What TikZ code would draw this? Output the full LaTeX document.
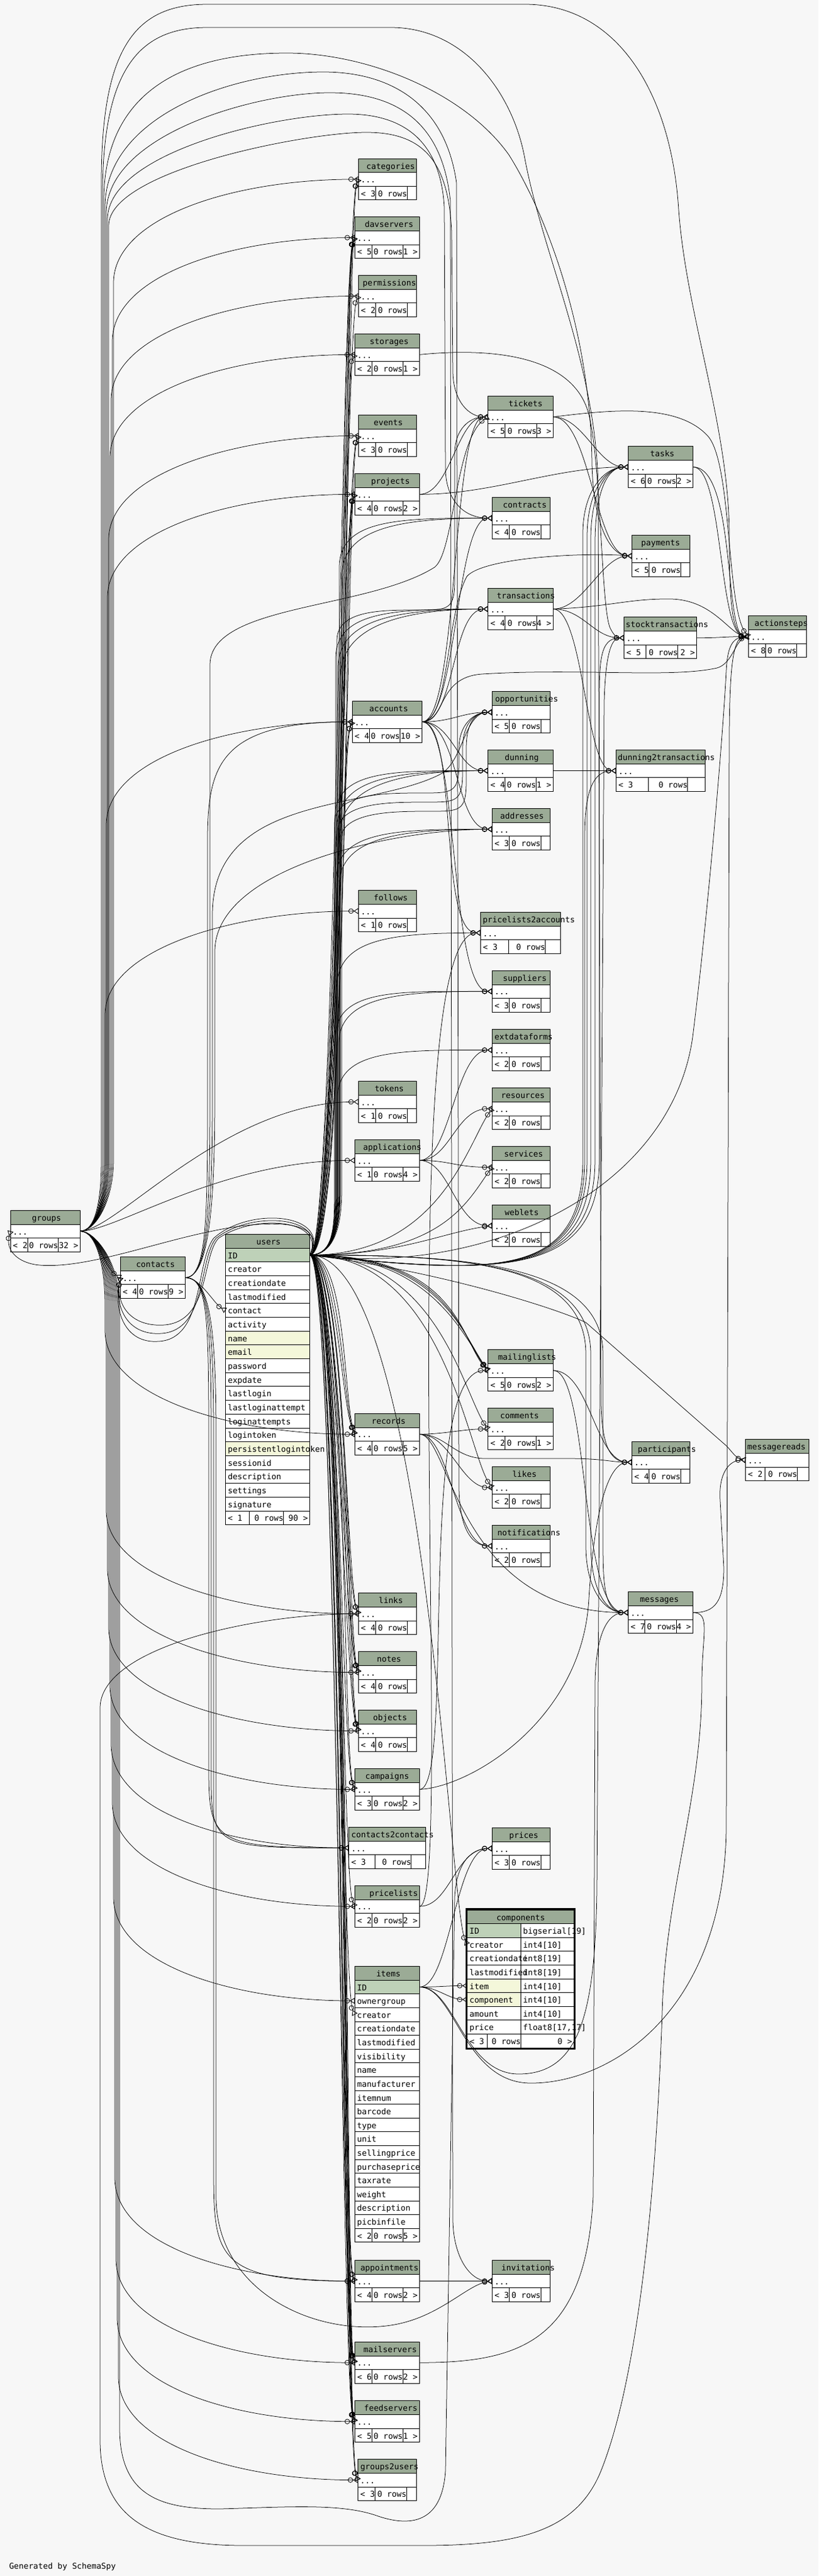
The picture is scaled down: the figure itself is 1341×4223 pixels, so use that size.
\documentclass[tikz,border=0pt]{standalone}
\usepackage{fontspec}
\newfontfamily\tfont{DejaVu Sans Mono}
\usetikzlibrary{arrows.meta}
\definecolor{bgc}{HTML}{F7F7F7}
\definecolor{hdrc}{HTML}{9BAB96}
\definecolor{pkc}{HTML}{BED1B8}
\definecolor{ixc}{HTML}{F4F7DA}
\tikzset{
  tt/.style={font=\fontsize{13.2pt}{15pt}\tfont, anchor=base west, inner sep=0pt, outer sep=0pt},
  tline/.style={line width=0.8pt, black},
  tbox/.style={draw=black, line width=0.8pt, minimum height=67.8pt, inner sep=0pt, outer sep=0pt},
  cellb/.style={draw=black, line width=0.8pt, inner sep=0pt, outer sep=0pt, anchor=north west},
  fk/.style={draw=black, line width=0.75pt, -{Circle[open,length=8.5pt,width=8.5pt,line width=0.8pt]Triangle[open,reversed,length=8pt,width=10pt,line width=0.9pt]}}
}
% small 3-row table
\newcommand\stbl[9]{%
  \fill[hdrc] (#2,#3) rectangle ++(#4,22.6);
  \fill[white] (#2,#3+22.6) rectangle ++(#4,45.2);
  \draw[tline] (#2,#3+22.6) -- ++(#4,0) (#2,#3+45.2) -- ++(#4,0)
    (#2+#7,#3+45.2) -- ++(0,22.6) (#2+#8,#3+45.2) -- ++(0,22.6);
  \node[tbox, minimum width=#4pt, anchor=north west] (#1) at (#2,#3) {};
  \node[tt] (#1-title) at (#2+#6,#3+17) {#5};
  \node[tt] (#1-dots) at (#2+4,#3+39.6) {...};
  \stblf{#1}{#2}{#3}{#4}{#8}#9}
\newcommand\stblf[7]{%
  \node[tt] (#1-fl) at (#2+4,#3+62.2) {<\ #6};
  \node[tt, anchor=base east] (#1-fm) at (#2+#5,#3+62.2) {0 rows};
  \node[tt, anchor=base east] (#1-fr) at (#2+#4-3,#3+62.2) {#7};}
% edges
\newcommand\gup[3]{\draw[fk] (groups.east) .. controls +(25,0) and +(0,70) .. (#2,1900) -- (#2,#3) .. controls +(0,-110) and +(-200,0) .. (#1.west);}
\newcommand\gdn[3]{\draw[fk] (groups.east) .. controls +(25,0) and +(0,-70) .. (#2,2140) -- (#2,#3) .. controls +(0,110) and +(-200,0) .. (#1.west);}
\newcommand\ue[3]{\draw[fk] (users-r1.east) .. controls +(#2,0) and +(#3) .. (#1.west);}
\newcommand\uemd[3]{\draw[fk] (users-r1.east) .. controls +(40,0) and +(0,60) .. (#2,1950) -- (#2,#3) .. controls +(0,-80) and +(-150,0) .. (#1.west);}
\newcommand\uem[5]{\draw[fk] (users-r1.east) .. controls +(40,0) and +(0,60) .. (#2,1950) -- (#2,#3+50) .. controls +(0,-50) and +(-60,0) .. (#4-60,#3) .. controls +(50,0) and +(0,50) .. (#4,#3-50) -- (#4,#5+60) .. controls +(0,-40) and +(-30,0) .. (#1.west);}
\newcommand\uer[3]{\draw[fk] (users-r1.east) .. controls +(300,30) and +(0,200) .. (#2,1900) -- (#2,#3) .. controls +(0,-70) and +(-40,0) .. (#1.west);}
\newcommand\uerb[3]{\draw[fk] (users-r1.east) .. controls +(250,0) and +(0,-150) .. (#2,2220) -- (#2,#3) .. controls +(0,70) and +(-40,0) .. (#1.west);}
\newcommand\ie[4]{\draw[fk] (#1.east) .. controls +(#3,0) and +(-#4,0) .. (#2.west);}
\begin{document}
\begin{tikzpicture}[x=1pt,y=-1pt]
\fill[bgc] (0,0) rectangle (1341,4223);
\useasboundingbox (0,0) rectangle (1341,4223);

% ---------- left column ----------
\stbl{categories}{587.4}{260}{95.4}{categories}{13}{27.6}{79.6}{{3}{}}
\stbl{davservers}{581.3}{355.7}{106.1}{davservers}{16.5}{27.6}{78.6}{{5}{1 >}}
\stbl{permissions}{587.4}{451.6}{95.4}{permissions}{7}{27.6}{79.6}{{2}{}}
\stbl{storages}{581.3}{547.5}{106.1}{storages}{24.6}{27.6}{78.6}{{2}{1 >}}
\stbl{events}{587.4}{680.6}{95.4}{events}{25}{27.6}{79.6}{{3}{}}
\stbl{projects}{581.3}{776.5}{106.1}{projects}{26.7}{27.6}{78.6}{{4}{2 >}}
\stbl{accounts}{577.2}{1149.5}{114.3}{accounts}{28}{28}{78}{{4}{10 >}}
\stbl{follows}{587.4}{1459.7}{95.4}{follows}{25}{27.6}{79.6}{{1}{}}
\stbl{tokens}{587.4}{1772.4}{95.4}{tokens}{26.6}{27.6}{79.6}{{1}{}}
\stbl{applications}{581.3}{1868.4}{106.1}{applications}{13.8}{27.6}{78.6}{{1}{4 >}}
\stbl{records}{581.3}{2317.3}{106.1}{records}{27.6}{27.6}{78.6}{{4}{5 >}}
\stbl{links}{587.4}{2611.7}{95.4}{links}{33.2}{27.6}{79.6}{{4}{}}
\stbl{notes}{587.4}{2707.7}{95.4}{notes}{30.2}{27.6}{79.6}{{4}{}}
\stbl{objects}{587.4}{2803.6}{95.4}{objects}{24}{27.6}{79.6}{{4}{}}
\stbl{campaigns}{581.3}{2899.5}{106.1}{campaigns}{17.4}{27.6}{78.6}{{3}{2 >}}
\stbl{contacts2contacts}{571.6}{2995.4}{126.1}{contacts2contacts}{4.1}{42.9}{102.1}{{3}{}}
\stbl{pricelists}{581.3}{3091.3}{106.1}{pricelists}{24}{27.6}{78.6}{{2}{2 >}}
\stbl{appointments}{581.3}{3705.6}{106.1}{appointments}{9.2}{27.6}{78.6}{{4}{2 >}}
\stbl{mailservers}{581.3}{3839.3}{106.1}{mailservers}{14.3}{27.6}{78.6}{{6}{2 >}}
\stbl{feedservers}{581.3}{3935.8}{106.1}{feedservers}{15.3}{27.6}{78.6}{{5}{1 >}}
\stbl{groups2users}{586.4}{4031.7}{95.9}{groups2users}{4.1}{27.6}{79.6}{{3}{}}
% ---------- middle column ----------
\stbl{tickets}{799.7}{649.6}{106.6}{tickets}{33.7}{27.5}{79.5}{{5}{3 >}}
\stbl{contracts}{806.3}{815.5}{95.4}{contracts}{17.9}{27.6}{79.6}{{4}{}}
\stbl{transactions}{799.7}{964.5}{106.6}{transactions}{14.3}{27.5}{79.5}{{4}{4 >}}
\stbl{opportunities}{806.3}{1133.7}{95.4}{opportunities}{5}{27.6}{79.6}{{5}{}}
\stbl{dunning}{799.7}{1229.6}{106.6}{dunning}{27.5}{27.5}{78.6}{{4}{1 >}}
\stbl{addresses}{806.3}{1325.5}{95.4}{addresses}{13.3}{27.6}{79.6}{{3}{}}
\stbl{pricelists2accounts}{787.4}{1495.4}{131.2}{pricelists2accounts}{3.6}{46}{106.2}{{3}{}}
\stbl{suppliers}{806.3}{1591.3}{95.4}{suppliers}{17.9}{27.6}{79.6}{{3}{}}
\stbl{extdataforms}{806.3}{1687.5}{95.4}{extdataforms}{4}{27.6}{79.6}{{2}{}}
\stbl{resources}{806.3}{1783.7}{95.4}{resources}{14.7}{27.6}{79.6}{{2}{}}
\stbl{services}{806.3}{1879.6}{95.4}{services}{19.9}{27.6}{79.6}{{2}{}}
\stbl{weblets}{806.3}{1975.5}{95.4}{weblets}{20.9}{27.6}{79.6}{{2}{}}
\stbl{mailinglists}{799.7}{2212.8}{106.6}{mailinglists}{16.3}{27.5}{78.6}{{5}{2 >}}
\stbl{comments}{799.7}{2308.7}{106.6}{comments}{19.9}{27.5}{78.6}{{2}{1 >}}
\stbl{likes}{806.3}{2404.6}{95.4}{likes}{33.2}{27.6}{79.6}{{2}{}}
\stbl{notifications}{806.3}{2500.5}{95.4}{notifications}{8.7}{27.6}{79.6}{{2}{}}
\stbl{prices}{806.3}{2996.4}{95.4}{prices}{28.1}{27.6}{79.6}{{3}{}}
\stbl{invitations}{806.3}{3705.6}{95.4}{invitations}{15.3}{27.6}{79.6}{{3}{}}
% ---------- right columns ----------
\stbl{tasks}{1029.6}{731.7}{106.1}{tasks}{35.8}{27.5}{78.6}{{6}{2 >}}
\stbl{payments}{1035.7}{877.5}{95}{payments}{15}{27.6}{79.6}{{5}{}}
\stbl{stocktransactions}{1022.4}{1011.8}{119.4}{stocktransactions}{3}{35.8}{88.3}{{5}{2 >}}
\stbl{dunning2transactions}{1009.4}{1229.6}{145.9}{dunning2transactions}{3}{53}{117.3}{{3}{}}
\stbl{participants}{1035.4}{2363.3}{94.9}{participants}{9.7}{27.6}{79.6}{{4}{}}
\stbl{messages}{1029.3}{2609.7}{106.1}{messages}{19.4}{27.5}{78.6}{{7}{4 >}}
\stbl{actionsteps}{1226.7}{1009.7}{94.9}{actionsteps}{9.7}{27.6}{78.6}{{8}{}}
\stbl{messagereads}{1221.6}{2359.7}{104.1}{messagereads}{3.1}{31.7}{84.7}{{2}{}}
% ---------- far left ----------
\stbl{groups}{17.2}{1984.4}{114.1}{groups}{35.2}{28}{78.1}{{2}{32 >}}
\stbl{contacts}{197}{2060.6}{106.5}{contacts}{26}{28.8}{78.5}{{4}{9 >}}

% ---------- users ----------
\node[cellb, fill=hdrc, minimum width=138.2pt, minimum height=22.67pt] (users) at (369.3,2023.5) {};
\node[tt] (users-title) at (420.2,2040.5) {users};
\foreach \cn/\cf [count=\i] in {ID/pkc,creator/white,creationdate/white,lastmodified/white,contact/white,activity/white,name/ixc,email/ixc,password/white,expdate/white,lastlogin/white,lastloginattempt/white,loginattempts/white,logintoken/white,persistentlogintoken/ixc,sessionid/white,description/white,settings/white,signature/white}{
  \node[cellb, fill=\cf, minimum width=138.2pt, minimum height=22.67pt] (users-r\i) at (369.3,2023.5+\i*22.67) {};
  \node[tt] (users-t\i) at (373.3,2040.5+\i*22.67) {\cn};
}
\node[cellb, fill=white, minimum width=138.2pt, minimum height=22.67pt] (users-ft) at (369.3,2476.9) {};
\draw[tline] (408.7,2476.9) -- ++(0,22.67) (464.6,2476.9) -- ++(0,22.67);
\node[tt] (users-fl) at (373.3,2493.9) {<\ 1};
\node[tt, anchor=base east] (users-fm) at (464.6,2493.9) {0 rows};
\node[tt, anchor=base east] (users-fr) at (504.5,2493.9) {90 >};

% ---------- items ----------
\node[cellb, fill=hdrc, minimum width=106.1pt, minimum height=22.61pt] (items) at (581.3,3223.5) {};
\node[tt] (items-title) at (616.5,3240.5) {items};
\foreach \cn/\cf [count=\i] in {ID/pkc,ownergroup/white,creator/white,creationdate/white,lastmodified/white,visibility/white,name/white,manufacturer/white,itemnum/white,barcode/white,type/white,unit/white,sellingprice/white,purchaseprice/white,taxrate/white,weight/white,description/white,picbinfile/white}{
  \node[cellb, fill=\cf, minimum width=106.1pt, minimum height=22.61pt] (items-r\i) at (581.3,3223.5+\i*22.61) {};
  \node[tt] (items-t\i) at (585.1,3240.5+\i*22.61) {\cn};
}
\node[cellb, fill=white, minimum width=106.1pt, minimum height=22.61pt] (items-ft) at (581.3,3653.1) {};
\draw[tline] (608.9,3653.1) -- ++(0,22.61) (659.9,3653.1) -- ++(0,22.61);
\node[tt] (items-fl) at (585.3,3670.1) {<\ 2};
\node[tt, anchor=base east] (items-fm) at (659.9,3670.1) {0 rows};
\node[tt, anchor=base east] (items-fr) at (684.4,3670.1) {5 >};

% ---------- components ----------
\node[cellb, fill=hdrc, minimum width=175pt, minimum height=22.6pt] (components) at (765.5,3131) {};
\node[tt] (components-title) at (813.5,3148) {components};
\foreach \cn/\ct/\cf [count=\i] in {ID/bigserial[19]/pkc,creator/int4[10]/white,creationdate/int8[19]/white,lastmodified/int8[19]/white,item/int4[10]/ixc,component/int4[10]/ixc,amount/int4[10]/white,price/float8[17.17]/white}{
  \node[cellb, fill=\cf, minimum width=87.8pt, minimum height=22.6pt] (comp-r\i) at (765.5,3131+\i*22.6) {};
  \node[cellb, fill=white, minimum width=87.2pt, minimum height=22.6pt] (comp-s\i) at (853.3,3131+\i*22.6) {};
}
\foreach \cn/\ct [count=\i] in {ID/bigserial[19],creator/int4[10],creationdate/int8[19],lastmodified/int8[19],item/int4[10],component/int4[10],amount/int4[10]}{
  \node[tt] (comp-t\i) at (769.3,3148+\i*22.6) {\cn};
  \node[tt] (comp-u\i) at (857.1,3148+\i*22.6) {\ct};
}
\node[tt] (comp-t8) at (769.3,3328.8) {price};
\node[tt] (comp-u8) at (857.1,3328.8) {float8[17,17]};
\node[cellb, fill=white, minimum width=175pt, minimum height=22.6pt] (comp-ft) at (765.5,3334.4) {};
\draw[tline] (798,3334.4) -- ++(0,22.6) (853.3,3334.4) -- ++(0,22.6);
\node[tt] (comp-fl) at (769.5,3351.4) {<\ 3};
\node[tt, anchor=base east] (comp-fm) at (853.3,3351.4) {0 rows};
\node[tt, anchor=base east] (comp-fr) at (937.5,3351.4) {0 >};
\draw[line width=2.5pt] (763.9,3129.4) rectangle (942.1,3358.6);

\node[tt] (gen) at (15,4211) {Generated by SchemaSpy};

% ================= connectors =================
% --- groups (ownergroup) ---
\gup{categories}{186}{464}
\gup{davservers}{184}{560}
\gup{permissions}{182}{656}
\gup{storages}{180}{751}
\gup{events}{178}{885}
\gup{projects}{176}{980}
\gup{accounts}{174}{1353}
\gup{follows}{172}{1664}
\draw[fk] (groups.east) .. controls +(60,0) and +(-220,0) .. (tokens.west);
\draw[fk] (groups.east) .. controls +(60,0) and +(-220,0) .. (applications.west);
\draw[fk] (groups.east) .. controls +(30,0) and +(-30,-20) .. (contacts.west);
\gdn{records}{172}{2181}
\gdn{links}{174}{2476}
\gdn{notes}{176}{2572}
\gdn{objects}{178}{2668}
\gdn{campaigns}{180}{2763}
\gdn{contacts2contacts}{182}{2859}
\gdn{pricelists}{184}{2955}
\gdn{items-r2}{186}{3110}
\gdn{appointments}{188}{3570}
\gdn{mailservers}{190}{3703}
\gdn{feedservers}{192}{3800}
\gdn{groups2users}{194}{3896}
% top arcs
\draw[fk] (groups.east) .. controls +(25,0) and +(0,70) .. (166,1900) -- (166,300) .. controls (166,80) and (220,7) .. (340,7) -- (860,7) .. controls (1010,7) and (1100,150) .. (1112,344) .. controls (1125,520) and (1195,700) .. (1195,880) .. controls (1195,990) and (1200,1040) .. (actionsteps.west);
\draw[fk] (groups.east) .. controls +(25,0) and +(0,70) .. (168,1900) -- (168,320) .. controls (168,110) and (230,45) .. (340,45) -- (640,45) .. controls (760,45) and (840,150) .. (860,260) .. controls (890,420) and (978,600) .. (980,800) -- (985,2300) .. controls (986,2370) and (1000,2397) .. (participants.west);
\draw[fk] (groups.east) .. controls +(25,0) and +(0,70) .. (170,1900) -- (170,330) .. controls (170,150) and (300,87) .. (470,87) .. controls (600,87) and (760,150) .. (834,254) .. controls (900,360) and (968,550) .. (970,760) .. controls (972,860) and (1000,911) .. (payments.west);
\draw[fk] (groups.east) .. controls +(25,0) and +(0,70) .. (172,1900) -- (172,340) .. controls (172,190) and (380,118) .. (530,118) .. controls (640,118) and (730,170) .. (748,300) -- (752,2440) .. controls (753,2500) and (770,2534) .. (notifications.west);
\draw[fk] (groups.east) .. controls +(25,0) and +(0,70) .. (174,1900) -- (174,350) .. controls (174,220) and (420,152) .. (540,152) .. controls (650,152) and (725,200) .. (738,330) -- (742,3640) .. controls (743,3700) and (770,3739.5) .. (invitations.west);
\draw[fk] (groups.east) .. controls +(25,0) and +(0,70) .. (176,1900) -- (176,360) .. controls (176,250) and (450,187) .. (570,187) .. controls (660,187) and (722,230) .. (728,340) -- (730,770) .. controls (731,820) and (760,849.4) .. (contracts.west);
\draw[fk] (groups.east) .. controls +(25,0) and +(0,70) .. (178,1900) -- (178,370) .. controls (178,280) and (500,217) .. (600,217) .. controls (690,217) and (735,260) .. (740,380) -- (742,610) .. controls (743,660) and (770,683.5) .. (tickets.west);
% bottom arc
\draw[fk] (groups.east) .. controls +(25,0) and +(0,-70) .. (196,2140) -- (196,3980) .. controls (196,4090) and (260,4113) .. (360,4113) .. controls (470,4110) and (560,4103) .. (620,4125) .. controls (680,4145) and (725,4130) .. (730,4050) -- (745,3110) .. controls (748,3050) and (775,3030.3) .. (prices.west);

% --- users (creator etc.) ---
\draw[fk] (users-r1.east) .. controls (540,1995) and (430,2000) .. (344,2019) .. controls (250,2038) and (140,2080) .. (65,2074) .. controls (30,2071) and (8,2050) .. (groups.west);
\draw[fk] (users-r1.east) .. controls (535,2000) and (420,1988) .. (358,2030) .. controls (330,2060) and (345,2165) .. (270,2172) .. controls (215,2176) and (190,2140) .. (contacts.west);
\draw[fk] (users-r1.east) .. controls (540,1995) and (415,1982) .. (354,2030) .. controls (325,2065) and (340,2180) .. (265,2186) .. controls (210,2190) and (188,2145) .. (contacts.west);
\draw[fk] (users-r1.east) .. controls (545,1990) and (410,1976) .. (350,2030) .. controls (320,2070) and (335,2195) .. (260,2199) .. controls (205,2203) and (186,2150) .. (contacts.west);
% left column, above
\ue{categories}{45}{-22,45} \ue{categories}{60}{-20,50}
\ue{davservers}{42}{-22,45} \ue{davservers}{50}{-22,48} \ue{davservers}{58}{-20,52} \ue{davservers}{66}{-18,55}
\ue{permissions}{48}{-22,45}
\ue{storages}{52}{-22,45}
\ue{events}{44}{-22,45} \ue{events}{62}{-20,50}
\ue{projects}{46}{-22,45} \ue{projects}{54}{-20,50} \ue{projects}{64}{-18,55}
\ue{accounts}{48}{-22,45} \ue{accounts}{56}{-20,50}
% left column, below
\ue{records}{45}{-22,-45} \ue{records}{52}{-20,-50} \ue{records}{60}{-18,-55}
\ue{links}{46}{-22,-45} \ue{links}{58}{-20,-50}
\ue{notes}{44}{-22,-45} \ue{notes}{54}{-20,-50} \ue{notes}{64}{-18,-55}
\ue{objects}{47}{-22,-45} \ue{objects}{57}{-20,-50} \ue{objects}{67}{-18,-55}
\ue{campaigns}{50}{-22,-45} \ue{campaigns}{62}{-20,-50}
\ue{pricelists}{55}{-22,-45}
\ue{items-r3}{53}{-22,-45}
\ue{appointments}{49}{-22,-45} \ue{appointments}{61}{-20,-50}
\ue{mailservers}{43}{-22,-45} \ue{mailservers}{51}{-22,-48} \ue{mailservers}{59}{-20,-50} \ue{mailservers}{65}{-18,-52} \ue{mailservers}{70}{-16,-55}
\ue{feedservers}{45}{-22,-45} \ue{feedservers}{53}{-20,-48} \ue{feedservers}{63}{-18,-52} \ue{feedservers}{68}{-16,-55}
\ue{groups2users}{50}{-22,-45} \ue{groups2users}{60}{-20,-50}
% middle column
\uem{tickets}{552}{1000}{745}{683.5}
\uemd{contracts}{556}{930}
\uemd{contracts}{560}{945}
\uemd{transactions}{550}{1080}
\uemd{transactions}{554}{1095}
\uemd{transactions}{558}{1110}
\uem{opportunities}{548}{1300}{752}{1167.6}
\uem{opportunities}{553}{1315}{758}{1167.6}
\uem{opportunities}{557}{1330}{764}{1167.6}
\uemd{dunning}{549}{1340}
\uemd{dunning}{553}{1355}
\uemd{dunning}{557}{1370}
\uemd{addresses}{551}{1440}
\uemd{addresses}{556}{1452}
\uemd{pricelists2accounts}{552}{1620}
\uemd{suppliers}{550}{1700}
\uemd{suppliers}{555}{1712}
\uemd{extdataforms}{553}{1800}
\ue{resources}{215}{-40,55}
\ue{services}{220}{-40,55}
\ue{weblets}{150}{-80,10}
\ue{mailinglists}{200}{-40,-55} \ue{mailinglists}{215}{-40,-55} \ue{mailinglists}{230}{-42,-50} \ue{mailinglists}{245}{-44,-45}
\ue{comments}{210}{-40,-55}
\ue{likes}{220}{-40,-55}
\ue{comp-r2}{190}{-30,-60}
% right column
\uer{tasks}{955}{875} \uer{tasks}{962}{880} \uer{tasks}{968}{885} \uer{tasks}{975}{890}
\uer{stocktransactions}{982}{1155}
\uer{dunning2transactions}{958}{1373}
\uerb{messages}{960}{2534} \uerb{messages}{968}{2530} \uerb{messages}{988}{2526}
\draw[fk] (users-r1.east) .. controls (800,2095) and (1100,1950) .. (1135,1700) .. controls (1160,1500) and (1185,1200) .. (1190,1100) .. controls (1192,1060) and (1200,1045) .. (actionsteps.west);
\draw[fk] (users-r1.east) .. controls (700,2080) and (900,2140) .. (960,2168) -- (1190,2370) .. controls (1200,2380) and (1205,2390) .. (messagereads.west);

% --- table to table ---
\draw[fk] (contacts.east) .. controls +(25,0) and +(-20,-12) .. (users-r5.west);
\draw[fk] (contacts.east) .. controls +(35,0) and +(0,200) .. (340,1800) -- (340,1430) .. controls +(0,-150) and +(-250,0) .. (accounts.west);
\draw[fk] (contacts.east) .. controls +(35,0) and +(0,200) .. (344,1800) -- (344,1090) .. controls (344,990) and (600,1000) .. (712,930) .. controls (745,905) and (745,720) .. (tickets.west);
\draw[fk] (contacts.east) .. controls +(35,0) and +(0,200) .. (348,1800) -- (348,1500) .. controls (348,1300) and (600,1330) .. (720,1270) .. controls (760,1250) and (760,1167.6) .. (opportunities.west);
\draw[fk] (contacts.east) .. controls +(35,0) and +(0,200) .. (352,1800) -- (352,1560) .. controls (352,1420) and (650,1359.4) .. (addresses.west);
\draw[fk] (contacts.east) .. controls +(35,0) and +(0,-200) .. (342,2350) -- (342,2900) .. controls +(0,120) and +(-220,0) .. (contacts2contacts.west);
\draw[fk] (contacts.east) .. controls +(35,0) and +(0,-200) .. (346,2350) -- (346,2920) .. controls +(0,110) and +(-210,0) .. (contacts2contacts.west);
\draw[fk] (contacts.east) .. controls +(35,0) and +(0,-200) .. (350,2350) -- (350,3550) .. controls +(0,150) and +(-230,0) .. (appointments.west);
\draw[fk] (contacts.east) .. controls +(35,0) and +(0,-200) .. (354,2350) -- (354,3600) .. controls (354,3760) and (520,3830) .. (640,3812) .. controls (720,3800) and (765,3745) .. (invitations.west);

\ie{accounts}{opportunities}{50}{50}
\ie{accounts}{dunning}{50}{50}
\ie{accounts}{addresses}{60}{60}
\ie{accounts}{pricelists2accounts}{60}{70}
\ie{accounts}{suppliers}{60}{70}
\ie{accounts}{transactions}{55}{60}
\ie{accounts}{tickets}{60}{60}
\ie{accounts}{contracts}{58}{60}
\draw[fk] (accounts.east) .. controls +(45,0) and (730,1010) .. (765,945) .. controls (790,915) and (950,905) .. (payments.west);
\draw[fk] (accounts.east) .. controls +(40,0) and (715,1110) .. (790,1105) .. controls (950,1095) and (1100,1112) .. (1175,1095) .. controls (1200,1088) and (1205,1050) .. (actionsteps.west);

\ie{applications}{extdataforms}{50}{60}
\ie{applications}{resources}{50}{60}
\ie{applications}{services}{50}{60}
\ie{applications}{weblets}{50}{60}

\ie{records}{comments}{40}{40}
\ie{records}{likes}{50}{50}
\ie{records}{notifications}{50}{60}
\ie{records}{messages}{50}{280}
\draw[fk] (records.east) .. controls (730,2351) and (745,2391) .. (795,2391) -- (930,2391) .. controls (990,2391) and (1000,2397) .. (participants.west);

\ie{mailinglists}{participants}{60}{60}
\ie{mailinglists}{messages}{60}{80}
\draw[fk] (messages.east) .. controls (1172,2644) and (1186,2625) .. (1186,2570) -- (1180,2460) .. controls (1177,2415) and (1195,2393.6) .. (messagereads.west);
\draw[fk] (messages.east) .. controls +(30,0) and +(0,-80) .. (1150,2760) .. controls (1150,2950) and (1090,3100) .. (1085,3300) .. controls (1075,3600) and (1045,3900) .. (985,4050) .. controls (945,4150) and (850,4172) .. (700,4173) -- (400,4173) .. controls (250,4173) and (164,4130) .. (164,4000) -- (164,2800) .. controls (164,2700) and (420,2645.6) .. (links.west);

\ie{campaigns}{mailinglists}{60}{120}
\draw[fk] (campaigns.east) .. controls (770,2930) and (955,2820) .. (965,2620) .. controls (975,2460) and (1000,2397) .. (participants.west);

\ie{pricelists}{prices}{50}{60}
\ie{pricelists}{pricelists2accounts}{60}{150}

\ie{items-r1}{comp-r5}{30}{30}
\ie{items-r1}{comp-r6}{30}{30}
\ie{items-r1}{prices}{50}{60}
\draw[fk] (items-r1.east) .. controls (745,3257) and (760,3400) .. (850,3400) .. controls (950,3400) and (975,3300) .. (978,3100) -- (990,1150) .. controls (992,1080) and (1000,1045.7) .. (stocktransactions.west);
\draw[fk] (items-r1.east) .. controls (745,3257) and (760,3415) .. (870,3415) .. controls (1000,3415) and (1185,3300) .. (1190,3000) -- (1195,1200) .. controls (1196,1100) and (1200,1043.6) .. (actionsteps.west);

\ie{appointments}{invitations}{40}{40}
\draw[fk] (mailservers.east) .. controls (850,3873) and (960,3840) .. (972,3600) -- (975,2760) .. controls (976,2680) and (995,2643.6) .. (messages.west);

\ie{dunning}{dunning2transactions}{40}{40}
\ie{transactions}{dunning2transactions}{50}{50}
\ie{transactions}{stocktransactions}{50}{50}
\ie{transactions}{payments}{50}{50}
\draw[fk] (transactions.east) .. controls (1000,995) and (1030,981) .. (1100,982) .. controls (1170,984) and (1195,1040) .. (actionsteps.west);

\ie{tickets}{tasks}{50}{50}
\ie{tickets}{payments}{60}{60}
\draw[fk] (tickets.east) .. controls (1000,672) and (1110,660) .. (1160,715) .. controls (1200,760) and (1190,1000) .. (actionsteps.west);
\ie{projects}{tickets}{50}{50}
\ie{projects}{tasks}{120}{120}
\ie{tasks}{actionsteps}{50}{50}
\ie{tasks}{actionsteps}{70}{40}
\ie{stocktransactions}{actionsteps}{40}{40}
\draw[fk] (storages.east) .. controls (800,570) and (940,580) .. (965,680) .. controls (985,760) and (985,1000) .. (1000,1030) .. controls (1005,1040) and (1010,1045.7) .. (stocktransactions.west);
\end{tikzpicture}
\end{document}
